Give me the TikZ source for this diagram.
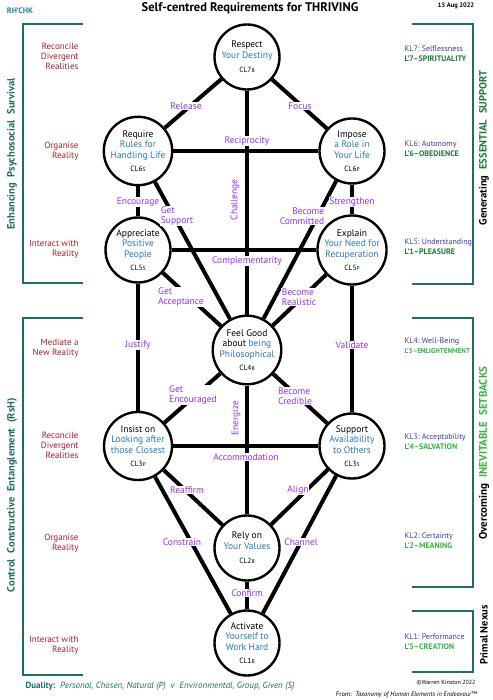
\documentclass[tikz,border=0pt]{standalone}
\usepackage{fontspec}
\setmainfont{PT Sans}
\usepackage{tikz}
\usetikzlibrary{positioning}
\usepackage{xcolor}

\definecolor{teal1}{RGB}{31,108,104}
\definecolor{rhblue}{RGB}{30,130,150}
\definecolor{crimson}{RGB}{165,30,40}
\definecolor{violet1}{RGB}{150,50,230}
\definecolor{nodeblue}{RGB}{40,120,195}
\definecolor{klblue}{RGB}{60,60,160}
\definecolor{darkgreen}{RGB}{30,120,55}
\definecolor{brightgreen}{RGB}{60,175,70}

\newcommand{\blu}[1]{\textcolor{nodeblue}{#1}}
\newcommand{\clno}[2]{{\fontsize{7.5}{8}\selectfont CL#1{\fontsize{5.5}{5}\selectfont #2}}}
\newcommand{\gap}{\hspace{6pt}}

\begin{document}
\begin{tikzpicture}[x=1pt,y=-1pt]
    \tikzstyle{cl} = [circle, draw, line width=2.4pt, fill=white, minimum size=65pt,
               inner sep=0pt, align=center, font=\fontsize{9.5}{10.5}\selectfont]
    \tikzstyle{link} = [draw, line width=4pt]
    \tikzstyle{verb} = [fill=white, inner sep=0.5pt, text=violet1, align=left,
               font=\fontsize{9.5}{10.5}\selectfont]
    \tikzstyle{task} = [anchor=east, align=right, text=crimson, font=\fontsize{9}{10}\selectfont]
    \tikzstyle{level} = [anchor=west, align=left, font=\fontsize{8}{10}\selectfont]
    \tikzstyle{bracket} = [draw=teal1, line width=2pt]
    \tikzstyle{side} = [rotate=90, font=\fontsize{10.5}{12}\selectfont\bfseries]

    \useasboundingbox (0,0) rectangle (492,700);

    % Headings
    \node[text=rhblue, font=\fontsize{8}{9}\selectfont\bfseries] (rh) at (20,11) {RH’CHK};
    \node[font=\fontsize{12.5}{13}\selectfont\bfseries] (title) at (250,8) {Self-centred Requirements for THRIVING};
    \node[font=\fontsize{6.5}{7}\selectfont\bfseries] (date) at (456,6) {15 Aug 2022};

    % Define the ten circles
    \node[cl] (respect) at (247,57) {Respect\\\blu{Your Destiny}\\[4pt]\clno{7}{B}};
    \node[cl] (require) at (138,151) {Require\\\blu{Rules for}\\\blu{Handling Life}\\[3pt]\clno{6}{S}};
    \node[cl] (impose) at (352,151) {Impose\\\blu{a Role in}\\\blu{Your Life}\\[3pt]\clno{6}{P}};
    \node[cl] (appreciate) at (138,250) {Appreciate\\\blu{Positive}\\\blu{People}\\[3pt]\clno{5}{S}};
    \node[cl] (explain) at (352,250) {Explain\\\blu{Your Need for}\\\blu{Recuperation}\\[3pt]\clno{5}{P}};
    \node[cl] (feelgood) at (247,350) {Feel Good\\about \blu{being}\\\blu{Philosophical}\\[3pt]\clno{4}{B}};
    \node[cl] (insist) at (138,446) {Insist on\\\blu{Looking after}\\\blu{those Closest}\\[3pt]\clno{3}{P}};
    \node[cl] (support) at (352,446) {Support\\\blu{Availability}\\\blu{to Others}\\[3pt]\clno{3}{S}};
    \node[cl] (rely) at (247,548) {Rely on\\\blu{Your Values}\\[4pt]\clno{2}{B}};
    \node[cl] (activate) at (247,643) {Activate\\\blu{Yourself to}\\\blu{Work Hard}\\[3pt]\clno{1}{B}};

    % Connectors
    \draw[link] (respect) -- (require);
    \draw[link] (respect) -- (impose);
    \draw[link] (respect) -- (feelgood);
    \draw[link] (require) -- (impose);
    \draw[link] (require) -- (appreciate);
    \draw[link] (impose) -- (explain);
    \draw[link] (require) -- (feelgood);
    \draw[link] (impose) -- (feelgood);
    \draw[link] (appreciate) -- (explain);
    \draw[link] (appreciate) -- (feelgood);
    \draw[link] (explain) -- (feelgood);
    \draw[link] (appreciate) -- (insist);
    \draw[link] (explain) -- (support);
    \draw[link] (feelgood) -- (insist);
    \draw[link] (feelgood) -- (support);
    \draw[link] (feelgood) -- (rely);
    \draw[link] (insist) -- (support);
    \draw[link] (insist) -- (rely);
    \draw[link] (support) -- (rely);
    \draw[link] (insist) -- (activate);
    \draw[link] (support) -- (activate);
    \draw[link] (rely) -- (activate);

    % Connector labels
    \node[verb] (release) at (186,106) {Release};
    \node[verb] (focus) at (300,106) {Focus};
    \node[verb] (reciprocity) at (247,141) {Reciprocity};
    \node[verb] (encourage) at (138,202) {Encourage};
    \node[verb] (strengthen) at (352,202) {Strengthen};
    \node[verb] (getsupport) at (177,216) {Get\\Support};
    \node[verb, align=right] (committed) at (302,216) {Become\\Committed};
    \node[verb, rotate=90, fill=none] (challenge) at (235,200) {Challenge};
    \node[verb] (complement) at (247,261) {Complementarity};
    \node[verb] (acceptance) at (181,297) {Get\\Acceptance};
    \node[verb] (realistic) at (299,297) {Become\\Realistic};
    \node[verb] (justify) at (138,345) {Justify};
    \node[verb] (validate) at (352,345) {Validate};
    \node[verb] (encouraged) at (193,395) {Get\\Encouraged};
    \node[verb] (credible) at (295,396) {Become\\Credible};
    \node[verb, rotate=90, fill=none] (energize) at (236,418) {Energize};
    \node[verb] (accommodation) at (246,457) {Accommodation};
    \node[verb] (reaffirm) at (187,490) {Reaffirm};
    \node[verb] (align) at (298,490) {Align};
    \node[verb] (constrain) at (182,542) {Constrain};
    \node[verb] (channel) at (301,542) {Channel};
    \node[verb] (confirm) at (247,593) {Confirm};

    % Left brackets and tasks
    \draw[bracket] (83,24) -- (23,24) -- (23,283) -- (83,283);
    \draw[bracket] (83,318) -- (23,318) -- (23,675) -- (83,675);
    \node[side, text=teal1] (survival) at (12,154) {Enhancing\gap Psychosocial\gap Survival};
    \node[side, text=teal1] (entangle) at (12,495) {Control\gap Constructive\gap Entanglement\gap (RsH)};

    \node[task] (t7) at (82,56) {Reconcile\\Divergent\\Realities};
    \node[task] (t6) at (82,151) {Organise\\Reality};
    \node[task] (t5) at (82,249) {Interact with\\Reality};
    \node[task] (t4) at (82,348) {Mediate a\\New Reality};
    \node[task] (t3) at (82,445) {Reconcile\\Divergent\\Realities};
    \node[task] (t2) at (82,543) {Organise\\Reality};
    \node[task] (t1) at (82,645) {Interact with\\Reality};

    % Right brackets and levels
    \draw[bracket] (412,24) -- (473,24) -- (473,284) -- (412,284);
    \draw[bracket] (412,318) -- (473,318) -- (473,587) -- (412,587);
    \draw[bracket] (412,611) -- (473,611) -- (473,672) -- (412,672);
    \node[side] (essential) at (484,148) {Generating\gap\textcolor{darkgreen}{ESSENTIAL\gap SUPPORT}};
    \node[side, font=\fontsize{11}{12}\selectfont\bfseries] (setbacks) at (484,453) {Overcoming\gap\textcolor{brightgreen}{INEVITABLE\gap SETBACKS}};
    \node[side] (nexus) at (484,635) {Primal Nexus};

    \node[level] (kl7) at (401,54) {\textcolor{klblue}{KL7:\ Selflessness}\\\textcolor{darkgreen}{\bfseries L’7–SPIRITUALITY}};
    \node[level] (kl6) at (401,149) {\textcolor{klblue}{KL6:\ Autonomy}\\\textcolor{darkgreen}{\bfseries L’6–OBEDIENCE}};
    \node[level] (kl5) at (401,247) {\textcolor{klblue}{KL5:\ Understanding}\\\textcolor{darkgreen}{\bfseries L’1–PLEASURE}};
    \node[level] (kl4) at (401,346) {\textcolor{klblue}{KL4:\ Well-Being}\\\textcolor{brightgreen}{\bfseries\fontsize{7}{10}\selectfont L’3–ENLIGHTENMENT}};
    \node[level] (kl3) at (401,442) {\textcolor{klblue}{KL3:\ Acceptability}\\\textcolor{brightgreen}{\bfseries L’4–SALVATION}};
    \node[level] (kl2) at (401,541) {\textcolor{klblue}{KL2:\ Certainty}\\\textcolor{brightgreen}{\bfseries L’2–MEANING}};
    \node[level] (kl1) at (401,642) {\textcolor{klblue}{KL1:\ Performance}\\\textcolor{brightgreen}{\bfseries L’5–CREATION}};

    % Footer
    \node[anchor=west, text=teal1, font=\fontsize{9}{10}\selectfont] (duality) at (22,686)
      {\textbf{Duality:}\ \ \textit{Personal, Chosen, Natural (P) \ v \ Environmental, Group, Given (S)}};
    \node[anchor=east, font=\fontsize{6}{6}\selectfont] (copy) at (479,683) {©Warren Kinston 2022};
    \node[anchor=east, font=\fontsize{6.5}{7}\selectfont] (from) at (481,695)
      {From:\ \ \textit{Taxonomy of Human Elements in Endeavour}™};

  \end{tikzpicture}
\end{document}
